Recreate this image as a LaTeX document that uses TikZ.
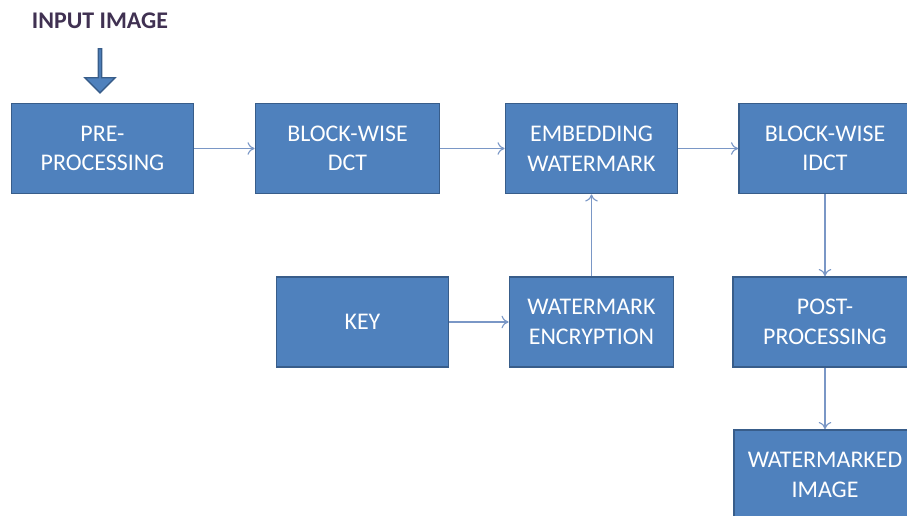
\documentclass[tikz,border=0pt]{standalone}
\usepackage{fontspec}
\setmainfont{Carlito}
\usetikzlibrary{arrows.meta}
\usetikzlibrary{shapes.arrows}

\definecolor{boxfill}{HTML}{4F81BD}
\definecolor{boxline}{HTML}{385D8A}
\definecolor{flowline}{HTML}{7A97C6}
\definecolor{titlecol}{HTML}{403152}

\tikzset{
    stage/.style={draw=boxline, line width=1.3pt, fill=boxfill, text=white,
        font=\fontsize{17}{21}\selectfont, align=center, inner sep=0pt},
    flow/.style={draw=flowline, line width=0.8pt, -{To[length=5pt,width=9pt]}},
}

\begin{document}
\begin{tikzpicture}[x=0.025cm, y=-0.025cm]
        \useasboundingbox (0,0) rectangle (907,515);
        \clip (0,0) rectangle (907,515);
        \node[font=\bfseries\fontsize{17}{21}\selectfont, text=titlecol] (input) at (100,21) {INPUT IMAGE};
        \node[single arrow, draw=boxline, fill=boxfill, line width=1pt, rotate=-90,
            minimum height=1.1cm, minimum width=0.75cm, single arrow head extend=0.15cm,
            inner sep=0pt] (inarrow) at (100,70) {};
        % first row
        \node[stage, minimum width=4.55cm, minimum height=2.25cm] (pre) at (102.5,148.5) {PRE-\\PROCESSING};
        \node[stage, minimum width=4.6cm, minimum height=2.25cm] (dct) at (347.5,148.5) {BLOCK-WISE\\DCT};
        \node[stage, minimum width=4.3cm, minimum height=2.25cm] (embed) at (591.5,148.5) {EMBEDDING\\WATERMARK};
        \node[stage, minimum width=4.3cm, minimum height=2.25cm] (idct) at (825,148.5) {BLOCK-WISE\\IDCT};
        % second row
        \node[stage, minimum width=4.3cm, minimum height=2.25cm] (key) at (362.5,322) {KEY};
        \node[stage, minimum width=4.1cm, minimum height=2.25cm] (encrypt) at (591.5,322) {WATERMARK\\ENCRYPTION};
        \node[stage, minimum width=4.6cm, minimum height=2.25cm] (post) at (825,322) {POST-\\PROCESSING};
        % output
        \node[stage, minimum width=4.55cm, minimum height=2.25cm] (wmimage) at (825,475) {WATERMARKED\\IMAGE};
        \draw[flow] (pre) -- (dct);
        \draw[flow] (dct) -- (embed);
        \draw[flow] (embed) -- (idct);
        \draw[flow] (key) -- (encrypt);
        \draw[flow] (encrypt) -- (embed);
        \draw[flow] (idct) -- (post);
        \draw[flow] (post) -- (wmimage);
    \end{tikzpicture}
\end{document}
